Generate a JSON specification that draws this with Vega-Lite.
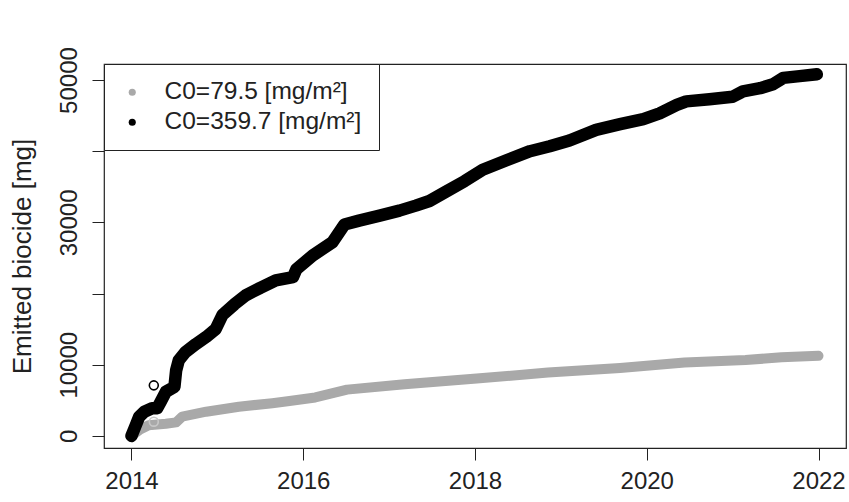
{
  "$schema": "https://vega.github.io/schema/vega-lite/v6.json",
  "width": 742,
  "height": 384,
  "autosize": {"type": "none"},
  "padding": {"left": 104, "top": 64, "right": 3, "bottom": 54},
  "background": "white",
  "config": {
    "font": "Liberation Sans",
    "view": {"stroke": "#222", "strokeWidth": 1.2},
    "axis": {
      "grid": false,
      "domain": false,
      "tickColor": "#222",
      "tickSize": 12,
      "tickWidth": 1,
      "labelColor": "#222",
      "labelFontSize": 24,
      "titleColor": "#222",
      "titleFontWeight": "normal",
      "labelFont": "Liberation Sans",
      "titleFont": "Liberation Sans"
    }
  },
  "datasets": {
    "curves": [
      {"series": "C0=79.5 [mg/m²]", "year": 2014.00, "emitted": 0},
      {"series": "C0=79.5 [mg/m²]", "year": 2014.10, "emitted": 900},
      {"series": "C0=79.5 [mg/m²]", "year": 2014.20, "emitted": 1500},
      {"series": "C0=79.5 [mg/m²]", "year": 2014.40, "emitted": 1700},
      {"series": "C0=79.5 [mg/m²]", "year": 2014.52, "emitted": 1900},
      {"series": "C0=79.5 [mg/m²]", "year": 2014.59, "emitted": 2700},
      {"series": "C0=79.5 [mg/m²]", "year": 2014.87, "emitted": 3400},
      {"series": "C0=79.5 [mg/m²]", "year": 2015.25, "emitted": 4100},
      {"series": "C0=79.5 [mg/m²]", "year": 2015.64, "emitted": 4600},
      {"series": "C0=79.5 [mg/m²]", "year": 2015.84, "emitted": 4900},
      {"series": "C0=79.5 [mg/m²]", "year": 2016.14, "emitted": 5400},
      {"series": "C0=79.5 [mg/m²]", "year": 2016.51, "emitted": 6500},
      {"series": "C0=79.5 [mg/m²]", "year": 2017.18, "emitted": 7250},
      {"series": "C0=79.5 [mg/m²]", "year": 2018.02, "emitted": 8050},
      {"series": "C0=79.5 [mg/m²]", "year": 2018.85, "emitted": 8900},
      {"series": "C0=79.5 [mg/m²]", "year": 2019.69, "emitted": 9550},
      {"series": "C0=79.5 [mg/m²]", "year": 2020.44, "emitted": 10300},
      {"series": "C0=79.5 [mg/m²]", "year": 2021.15, "emitted": 10650},
      {"series": "C0=79.5 [mg/m²]", "year": 2021.57, "emitted": 11050},
      {"series": "C0=79.5 [mg/m²]", "year": 2022.00, "emitted": 11250},
      {"series": "C0=359.7 [mg/m²]", "year": 2014.00, "emitted": 0},
      {"series": "C0=359.7 [mg/m²]", "year": 2014.05, "emitted": 1500},
      {"series": "C0=359.7 [mg/m²]", "year": 2014.09, "emitted": 2700},
      {"series": "C0=359.7 [mg/m²]", "year": 2014.15, "emitted": 3400},
      {"series": "C0=359.7 [mg/m²]", "year": 2014.24, "emitted": 3880},
      {"series": "C0=359.7 [mg/m²]", "year": 2014.30, "emitted": 3900},
      {"series": "C0=359.7 [mg/m²]", "year": 2014.34, "emitted": 4800},
      {"series": "C0=359.7 [mg/m²]", "year": 2014.40, "emitted": 6200},
      {"series": "C0=359.7 [mg/m²]", "year": 2014.50, "emitted": 6900},
      {"series": "C0=359.7 [mg/m²]", "year": 2014.52, "emitted": 9200},
      {"series": "C0=359.7 [mg/m²]", "year": 2014.55, "emitted": 10600},
      {"series": "C0=359.7 [mg/m²]", "year": 2014.63, "emitted": 11800},
      {"series": "C0=359.7 [mg/m²]", "year": 2014.75, "emitted": 12900},
      {"series": "C0=359.7 [mg/m²]", "year": 2014.87, "emitted": 13900},
      {"series": "C0=359.7 [mg/m²]", "year": 2014.98, "emitted": 15000},
      {"series": "C0=359.7 [mg/m²]", "year": 2015.06, "emitted": 17000},
      {"series": "C0=359.7 [mg/m²]", "year": 2015.20, "emitted": 18500},
      {"series": "C0=359.7 [mg/m²]", "year": 2015.33, "emitted": 19750},
      {"series": "C0=359.7 [mg/m²]", "year": 2015.50, "emitted": 20800},
      {"series": "C0=359.7 [mg/m²]", "year": 2015.68, "emitted": 21850},
      {"series": "C0=359.7 [mg/m²]", "year": 2015.88, "emitted": 22300},
      {"series": "C0=359.7 [mg/m²]", "year": 2015.92, "emitted": 23400},
      {"series": "C0=359.7 [mg/m²]", "year": 2016.11, "emitted": 25350},
      {"series": "C0=359.7 [mg/m²]", "year": 2016.34, "emitted": 27200},
      {"series": "C0=359.7 [mg/m²]", "year": 2016.48, "emitted": 29700},
      {"series": "C0=359.7 [mg/m²]", "year": 2016.65, "emitted": 30250},
      {"series": "C0=359.7 [mg/m²]", "year": 2016.89, "emitted": 30950},
      {"series": "C0=359.7 [mg/m²]", "year": 2017.12, "emitted": 31650},
      {"series": "C0=359.7 [mg/m²]", "year": 2017.31, "emitted": 32350},
      {"series": "C0=359.7 [mg/m²]", "year": 2017.47, "emitted": 33000},
      {"series": "C0=359.7 [mg/m²]", "year": 2017.66, "emitted": 34300},
      {"series": "C0=359.7 [mg/m²]", "year": 2017.88, "emitted": 35800},
      {"series": "C0=359.7 [mg/m²]", "year": 2018.09, "emitted": 37400},
      {"series": "C0=359.7 [mg/m²]", "year": 2018.36, "emitted": 38700},
      {"series": "C0=359.7 [mg/m²]", "year": 2018.64, "emitted": 40000},
      {"series": "C0=359.7 [mg/m²]", "year": 2018.87, "emitted": 40700},
      {"series": "C0=359.7 [mg/m²]", "year": 2019.10, "emitted": 41500},
      {"series": "C0=359.7 [mg/m²]", "year": 2019.41, "emitted": 43000},
      {"series": "C0=359.7 [mg/m²]", "year": 2019.69, "emitted": 43800},
      {"series": "C0=359.7 [mg/m²]", "year": 2019.96, "emitted": 44500},
      {"series": "C0=359.7 [mg/m²]", "year": 2020.15, "emitted": 45300},
      {"series": "C0=359.7 [mg/m²]", "year": 2020.35, "emitted": 46500},
      {"series": "C0=359.7 [mg/m²]", "year": 2020.46, "emitted": 47000},
      {"series": "C0=359.7 [mg/m²]", "year": 2020.73, "emitted": 47300},
      {"series": "C0=359.7 [mg/m²]", "year": 2021.00, "emitted": 47650},
      {"series": "C0=359.7 [mg/m²]", "year": 2021.12, "emitted": 48400},
      {"series": "C0=359.7 [mg/m²]", "year": 2021.32, "emitted": 48850},
      {"series": "C0=359.7 [mg/m²]", "year": 2021.47, "emitted": 49400},
      {"series": "C0=359.7 [mg/m²]", "year": 2021.59, "emitted": 50300},
      {"series": "C0=359.7 [mg/m²]", "year": 2021.78, "emitted": 50550},
      {"series": "C0=359.7 [mg/m²]", "year": 2021.98, "emitted": 50800}
    ],
    "outliers": [
      {"series": "C0=359.7 [mg/m²]", "year": 2014.26, "emitted": 7100},
      {"series": "C0=79.5 [mg/m²]", "year": 2014.26, "emitted": 2000}
    ]
  },
  "encoding": {
    "x": {
      "field": "year",
      "type": "quantitative",
      "scale": {"domain": [2013.68, 2022.32], "nice": false, "zero": false},
      "axis": {"title": null, "values": [2014, 2016, 2018, 2020, 2022], "format": "d", "labelPadding": 9}
    },
    "y": {
      "field": "emitted",
      "type": "quantitative",
      "scale": {"domain": [-1700, 52250], "nice": false, "zero": false},
      "axis": {
        "title": "Emitted biocide [mg]",
        "titleFontSize": 26,
        "titlePadding": 22,
        "values": [0, 10000, 20000, 30000, 40000, 50000],
        "format": "d",
        "labelExpr": "datum.value == 20000 || datum.value == 40000 ? '' : datum.label",
        "labelAngle": 270,
        "labelAlign": "center",
        "labelBaseline": "bottom",
        "labelPadding": 11
      }
    }
  },
  "layer": [
    {
      "data": {"name": "curves"},
      "transform": [{"filter": "datum.series == 'C0=79.5 [mg/m²]'"}],
      "mark": {"type": "line", "strokeWidth": 10, "strokeCap": "round", "strokeJoin": "round"},
      "encoding": {
        "color": {
          "field": "series",
          "type": "nominal",
          "sort": null,
          "scale": {"domain": ["C0=79.5 [mg/m²]", "C0=359.7 [mg/m²]"], "range": ["#a9a9a9", "#000000"]},
          "legend": {
            "title": "\u00a0",
            "titleOrient": "right",
            "titlePadding": 2,
            "titleFontSize": 24,
            "orient": "none",
            "legendX": 0,
            "legendY": 0,
            "padding": 16,
            "rowPadding": 5,
            "strokeColor": "#222",
            "fillColor": "white",
            "cornerRadius": 0,
            "labelFontSize": 24.5,
            "labelColor": "#222",
            "labelOffset": 20,
            "labelLimit": 400,
            "symbolType": "circle",
            "symbolSize": 50,
            "symbolStrokeWidth": 0,
            "encode": {"symbols": {"update": {"fill": {"scale": "color", "field": "value"}, "stroke": {"value": "transparent"}}}}
          }
        }
      }
    },
    {
      "data": {"name": "curves"},
      "transform": [{"filter": "datum.series == 'C0=359.7 [mg/m²]'"}],
      "mark": {"type": "line", "strokeWidth": 12.5, "strokeCap": "round", "strokeJoin": "round"},
      "encoding": {
        "color": {"field": "series", "type": "nominal", "sort": null}
      }
    },
    {
      "data": {"name": "outliers"},
      "mark": {"type": "point", "filled": false, "strokeWidth": 1.6, "size": 80, "opacity": 1},
      "encoding": {
        "stroke": {
          "field": "series",
          "type": "nominal",
          "scale": {"domain": ["C0=79.5 [mg/m²]", "C0=359.7 [mg/m²]"], "range": ["#c8c8c8", "#000000"]},
          "legend": null
        }
      }
    }
  ]
}
